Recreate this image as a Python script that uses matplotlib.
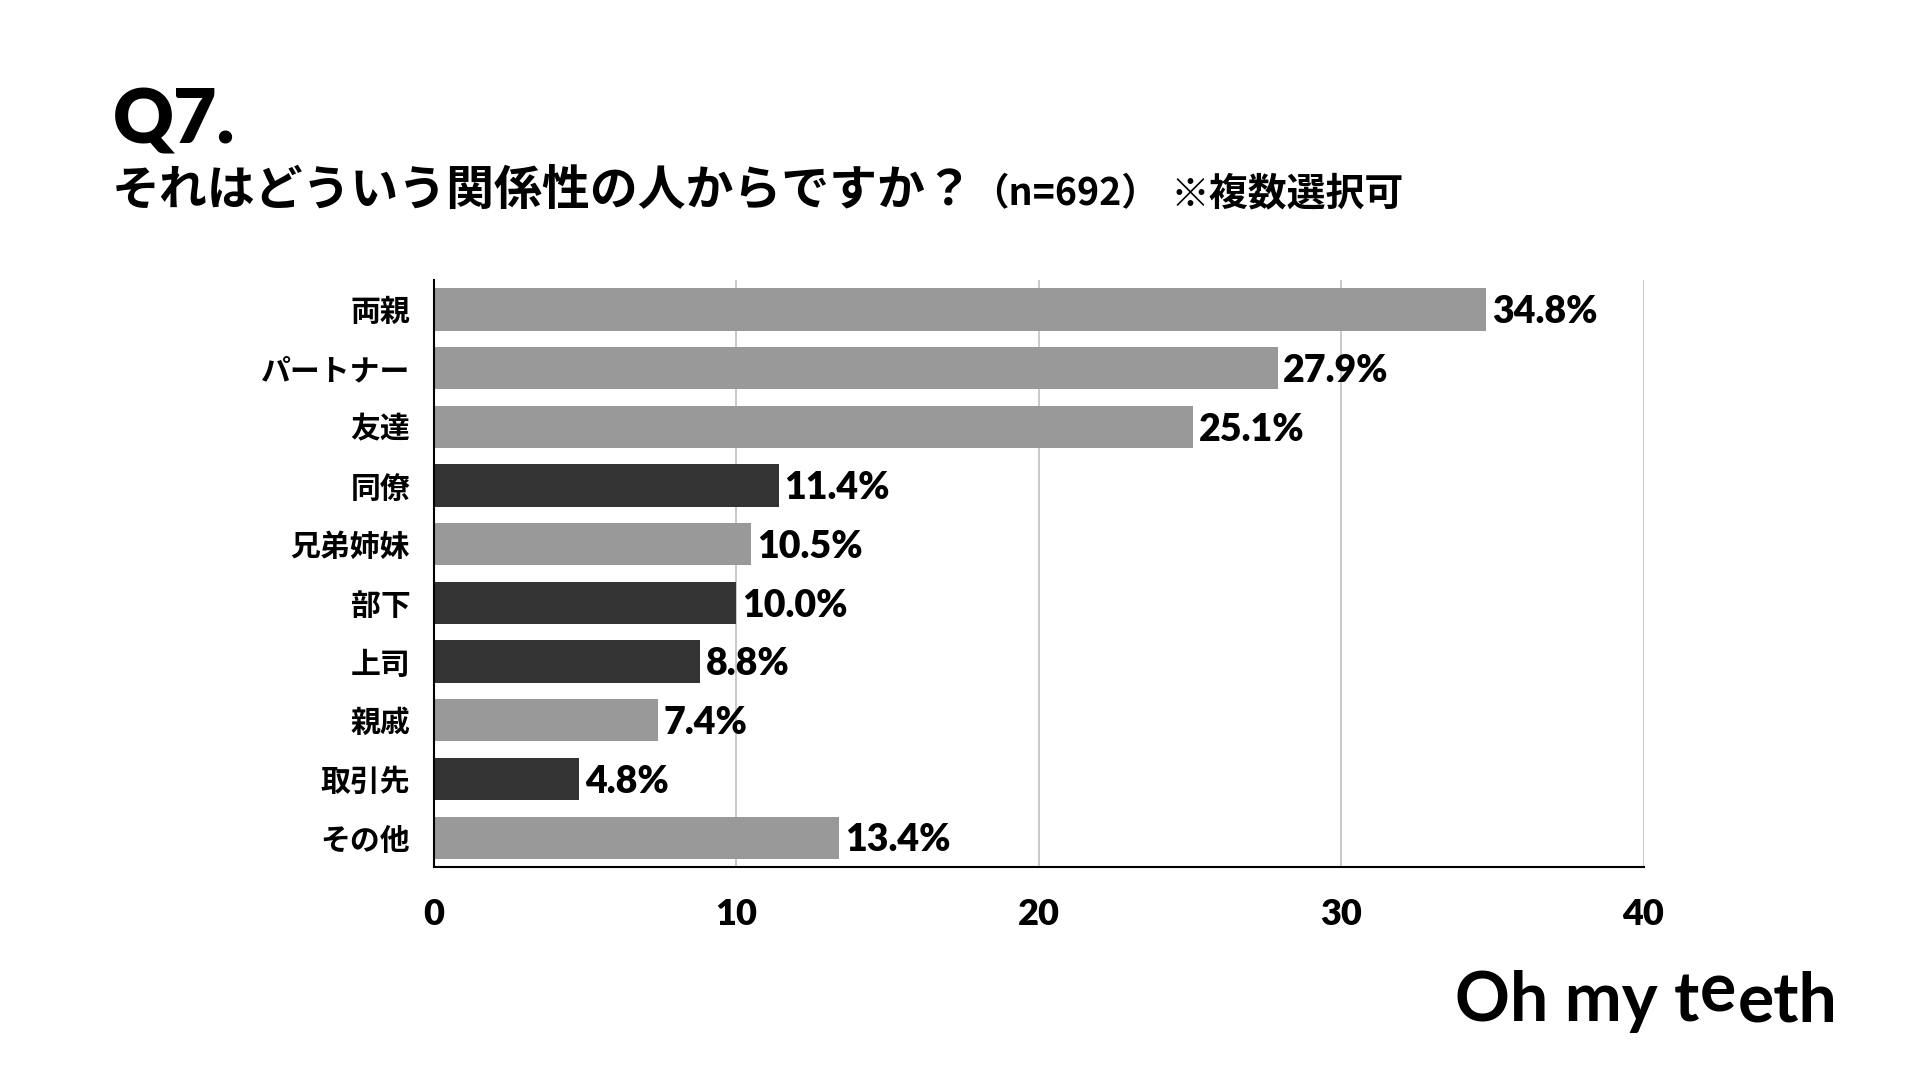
import matplotlib
matplotlib.use("Agg")
import matplotlib.pyplot as plt

plt.rcParams['font.family'] = ['Noto Sans CJK JP', 'DejaVu Sans']

categories = ["両親", "パートナー", "友達", "同僚", "兄弟姉妹", "部下", "上司", "親戚", "取引先", "その他"]
values = [34.8, 27.9, 25.1, 11.4, 10.5, 10.0, 8.8, 7.4, 4.8, 13.4]
work_related = ["同僚", "部下", "上司", "取引先"]
x_ticks = [0, 10, 20, 30, 40]

LIGHT = "#999999"
DARK = "#333333"
NUM_FONT = ["Lato", "DejaVu Sans"]

fig = plt.figure(figsize=(19.2, 10.8), dpi=100)
ax = fig.add_axes([0.2260, 0.1972, 0.6300, 0.5435])

ypos = list(range(len(categories)))
colors = [DARK if c in work_related else LIGHT for c in categories]
bars = ax.barh(ypos, values, height=0.72, color=colors, zorder=3)

ax.set_xlim(0, 40)
ax.set_ylim(len(categories) - 0.5, -0.5)
ax.set_xticks(x_ticks)
ax.set_xticklabels([str(t) for t in x_ticks], fontsize=26, fontweight='heavy', family=NUM_FONT)
ax.set_yticks(ypos)
ax.set_yticklabels(categories, fontsize=21.5, fontweight='bold')
ax.tick_params(axis='y', length=0, pad=17)
ax.tick_params(axis='x', length=0, pad=22)

ax.grid(axis='x', color='#c0c0c0', linewidth=1.2, zorder=0)
for s in ['top', 'right']:
    ax.spines[s].set_visible(False)
ax.spines['left'].set_color('black')
ax.spines['left'].set_linewidth(1.5)
ax.spines['bottom'].set_color('black')
ax.spines['bottom'].set_linewidth(1.5)
ax.spines['left'].set_zorder(4)
ax.spines['bottom'].set_zorder(4)

for b, v in zip(bars, values):
    ax.annotate(f"{v:.1f}%", xy=(b.get_width(), b.get_y() + b.get_height() / 2),
                xytext=(4, -2), textcoords='offset points', ha='left', va='center',
                fontsize=27, fontweight='heavy', family=NUM_FONT, color='black')

# Title
fig.text(113 / 1920, 1 - 143 / 1080, "Q7.", fontsize=54, fontweight='heavy',
         family=NUM_FONT, ha='left', va='baseline')

# Subtitle in pieces
sub_y = 1 - 205 / 1080
t1 = fig.text(112 / 1920, sub_y, "それはどういう関係性の人からですか？", fontsize=34.5,
              fontweight='bold', ha='left', va='baseline')
t2 = fig.text(0, 0, "（n=692）", fontsize=27, fontweight='bold', ha='left', va='baseline')
t3 = fig.text(0, 0, "※複数選択可", fontsize=28, fontweight='bold', ha='left', va='baseline')
fig.canvas.draw()
r = fig.canvas.get_renderer()
bb1 = t1.get_window_extent(r)
t2.set_position(((bb1.x1 - 3) / 1920, sub_y))
fig.canvas.draw()
bb2 = t2.get_window_extent(r)
t3.set_position(((bb2.x1 + 12) / 1920, sub_y))

# Logo "Oh my teeth" with first e raised
base_y = 1 - 1021 / 1080
LOGO_FS = 49
p1 = fig.text(1455 / 1920, base_y, "Oh my t", fontsize=LOGO_FS, fontweight='bold',
              family=NUM_FONT, ha='left', va='baseline')
fig.canvas.draw()
x = p1.get_window_extent(r).x1
p2 = fig.text(x / 1920, base_y + 9 / 1080, "e", fontsize=LOGO_FS, fontweight='bold',
              family=NUM_FONT, ha='left', va='baseline')
fig.canvas.draw()
x = p2.get_window_extent(r).x1
p3 = fig.text((x + 2) / 1920, base_y, "eth", fontsize=LOGO_FS, fontweight='bold',
              family=NUM_FONT, ha='left', va='baseline')

fig.savefig("out.png", dpi=100, facecolor='white')
